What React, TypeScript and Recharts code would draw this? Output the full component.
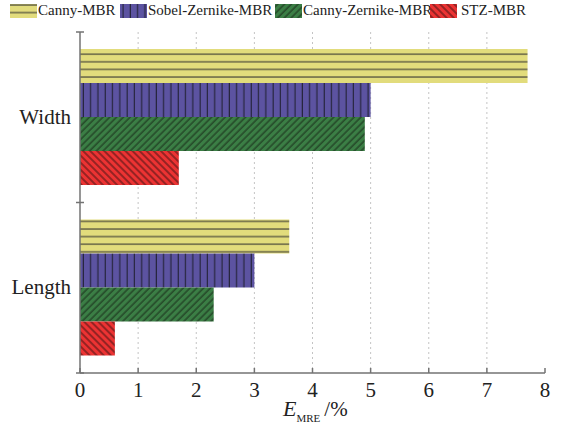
import React from 'react'
import { BarChart, Bar, XAxis, YAxis, CartesianGrid } from 'recharts'

const categories = ['Width', 'Length']
const cannyMBR = [7.7, 3.6]
const sobelZernikeMBR = [5.0, 3.0]
const cannyZernikeMBR = [4.9, 2.3]
const stzMBR = [1.7, 0.6]
const xTicks = [0, 1, 2, 3, 4, 5, 6, 7, 8]
const gridTicks = [1, 2, 3, 4, 5, 6, 7]

const series = [
  { key: 'canny', name: 'Canny-MBR', pattern: 'pYellow' },
  { key: 'sobel', name: 'Sobel-Zernike-MBR', pattern: 'pPurple' },
  { key: 'cz', name: 'Canny-Zernike-MBR', pattern: 'pGreen' },
  { key: 'stz', name: 'STZ-MBR', pattern: 'pRed' },
]

const data = categories.map((name, i) => ({
  name,
  canny: cannyMBR[i],
  sobel: sobelZernikeMBR[i],
  cz: cannyZernikeMBR[i],
  stz: stzMBR[i],
}))

const W = 577
const H = 425
const margin = { top: 32, right: 32, bottom: 0, left: 0 }
const xAxisHeight = 52
const yAxisWidth = 80
const FONT = 'Liberation Serif'
const AXIS = '#737373'
const bandSize = (H - margin.top - margin.bottom - xAxisHeight) / categories.length
const legendLeft = [10, 120, 275, 430]

const Patterns = () => (
  <defs>
    <pattern id="pYellow" width="8" height="7.6" patternUnits="userSpaceOnUse">
      <rect width="8" height="7.6" fill="#e2dc7c" />
      <line x1="0" y1="1" x2="8" y2="1" stroke="#2a2a2a" strokeWidth="1" />
    </pattern>
    <pattern id="pPurple" width="7.3" height="8" patternUnits="userSpaceOnUse">
      <rect width="7.3" height="8" fill="#5c53a1" />
      <line x1="3" y1="0" x2="3" y2="8" stroke="#1c1c2a" strokeWidth="1" />
    </pattern>
    <pattern id="pGreen" width="4.8" height="8" patternUnits="userSpaceOnUse" patternTransform="rotate(45)">
      <rect width="4.8" height="8" fill="#3b7e45" />
      <line x1="2" y1="0" x2="2" y2="8" stroke="#152015" strokeWidth="0.9" />
    </pattern>
    <pattern id="pRed" width="5" height="8" patternUnits="userSpaceOnUse" patternTransform="rotate(-45)">
      <rect width="5" height="8" fill="#ec3333" />
      <line x1="2" y1="0" x2="2" y2="8" stroke="#2a1010" strokeWidth="0.9" />
    </pattern>
  </defs>
)

const YTick = (props: any) => {
  const { x, y, payload, index } = props
  const top = y - bandSize / 2
  const bottom = y + bandSize / 2
  return (
    <g>
      <line x1={x + 4} y1={top} x2={x + 12} y2={top} stroke={AXIS} strokeWidth={1.5} />
      {index === categories.length - 1 && (
        <line x1={x + 4} y1={bottom} x2={x + 12} y2={bottom} stroke={AXIS} strokeWidth={1.5} />
      )}
      <text x={x - 1} y={y} dy={6.5} textAnchor="end" style={{ fontFamily: FONT }} fontSize={21} fill="#222">
        {payload.value}
      </text>
    </g>
  )
}

const XTick = (props: any) => {
  const { x, y, payload } = props
  return (
    <g>
      <line x1={x} y1={y - 8} x2={x} y2={y - 13} stroke={AXIS} strokeWidth={1.5} />
      <text x={x} y={y} dy={16} textAnchor="middle" style={{ fontFamily: FONT }} fontSize={21} fill="#222">
        {payload.value}
      </text>
    </g>
  )
}

const LegendRow = () => (
  <div style={{ position: 'absolute', top: 0, left: 0, fontFamily: FONT, fontSize: 15, color: '#222' }}>
    {series.map((s, i) => (
      <div
        key={s.key}
        style={{
          position: 'absolute',
          left: legendLeft[i],
          top: 2,
          display: 'flex',
          alignItems: 'center',
          whiteSpace: 'nowrap',
        }}
      >
        <svg width={27} height={14} style={{ marginRight: i === 3 ? 4 : 1, display: 'block' }}>
          <rect x={0} y={0} width={27} height={14} fill={`url(#${s.pattern})`} />
        </svg>
        <span style={{ lineHeight: '17px' }}>{s.name}</span>
      </div>
    ))}
  </div>
)

const gridGenerator = (props: any) => {
  const scale = props?.xAxis?.scale
  if (typeof scale === 'function') return gridTicks.map((v) => scale(v))
  const w = W - margin.right - yAxisWidth
  return gridTicks.map((v) => yAxisWidth + (v / 8) * w)
}

export default function App() {
  return (
    <div style={{ position: 'absolute', left: 0, top: 0, width: W, height: H, background: '#fff', fontFamily: FONT }}>
      <BarChart
        width={W}
        height={H}
        data={data}
        layout="vertical"
        margin={margin}
        barCategoryGap="10%"
        barGap={0}
      >
        <Patterns />
        <CartesianGrid
          horizontal={false}
          strokeDasharray="2 3"
          stroke="#c4c4c4"
          verticalCoordinatesGenerator={gridGenerator}
        />
        <XAxis
          type="number"
          domain={[0, 8]}
          ticks={xTicks}
          height={xAxisHeight}
          axisLine={{ stroke: AXIS, strokeWidth: 1.5 }}
          tickLine={false}
          tick={<XTick />}
          interval={0}
        />
        <YAxis
          type="category"
          dataKey="name"
          width={yAxisWidth}
          axisLine={{ stroke: AXIS, strokeWidth: 1.5 }}
          tickLine={false}
          tick={<YTick />}
        />
        {series.map((s) => (
          <Bar key={s.key} dataKey={s.key} name={s.name} fill={`url(#${s.pattern})`} isAnimationActive={false} />
        ))}
      </BarChart>
      <LegendRow />
      <svg width={W} height={H} style={{ position: 'absolute', left: 0, top: 0, pointerEvents: 'none' }}>
        <text x={283} y={416} style={{ fontFamily: FONT }} fill="#222">
          <tspan fontStyle="italic" fontSize={22}>E</tspan>
          <tspan fontSize={11} dy={6}>MRE</tspan>
          <tspan fontSize={21} dy={-6} dx={4}>/%</tspan>
        </text>
      </svg>
    </div>
  )
}
